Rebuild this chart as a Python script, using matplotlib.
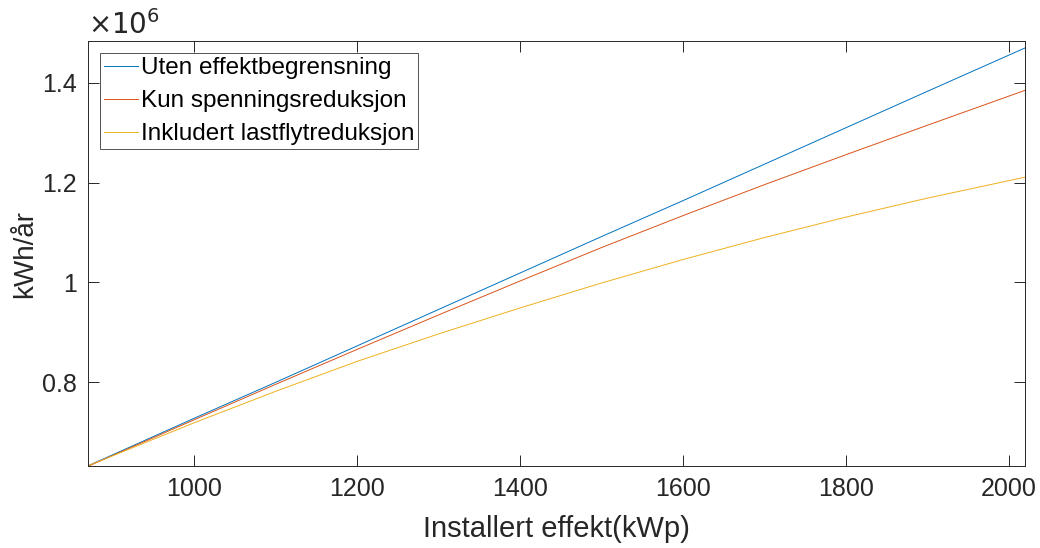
#!/usr/bin/env python3
"""Årlig produksjon mot installert effekt, med og uten effektbegrensning."""
import matplotlib
matplotlib.use("Agg")
import matplotlib.pyplot as plt
from matplotlib.ticker import FuncFormatter

# Installert effekt (kWp)
effekt = [870, 1000, 1100, 1200, 1300, 1400, 1500, 1600, 1700, 1800, 1900, 2020]

# Årlig produksjon (kWh/år)
uten_begrensning = [633000, 728000, 800000, 873000, 946000, 1019000,
                    1092000, 1164000, 1237000, 1310000, 1383000, 1470000]
kun_spenning = [632000, 725000, 796000, 866000, 935000, 1003000,
                1070000, 1134000, 1196000, 1256000, 1315000, 1385000]
lastflyt = [633000, 719000, 782000, 842000, 897000, 949000,
            999000, 1046000, 1090000, 1131000, 1169000, 1211000]

labels = ["Uten effektbegrensning", "Kun spenningsreduksjon",
          "Inkludert lastflytreduksjon"]
colors = ["#0072BD", "#D95319", "#EDB120"]

plt.rcParams["font.family"] = ["Liberation Sans", "DejaVu Sans"]
GREY = "#262626"


def main():
    fig = plt.figure(figsize=(10.4, 5.48), dpi=100)
    ax = fig.add_axes([0.0849, 0.1502, 0.901, 0.7744])

    for serie, label, color in zip([uten_begrensning, kun_spenning, lastflyt],
                                   labels, colors):
        ax.plot(effekt, serie, color=color, linewidth=0.7, label=label)

    ax.set_xlim(870, 2020)
    ax.set_ylim(633000, 1483000)
    ax.set_xticks([1000, 1200, 1400, 1600, 1800, 2000])
    ax.set_yticks([800000, 1000000, 1200000, 1400000])
    ax.yaxis.set_major_formatter(FuncFormatter(lambda v, _: f"{v / 1e6:g}"))

    ax.tick_params(direction="in", length=8, width=0.7, colors=GREY,
                   labelsize=18, top=True, right=True, pad=8)
    for spine in ax.spines.values():
        spine.set_color(GREY)
        spine.set_linewidth(0.7)

    ax.set_xlabel("Installert effekt(kWp)", fontsize=21, color=GREY, labelpad=10)
    ax.set_ylabel("kWh/år", fontsize=20, color=GREY, labelpad=3)
    ax.text(0.0, 1.003, r"$\times10^{6}$", transform=ax.transAxes,
            fontsize=20, color=GREY, ha="left", va="bottom",
            math_fontfamily="dejavusans")

    leg = ax.legend(loc="upper left", fontsize=17.5, frameon=True, fancybox=False,
                    handlelength=1.4, handletextpad=0.1, borderpad=0.15,
                    labelspacing=0.45, borderaxespad=0.5)
    leg.get_frame().set_edgecolor(GREY)
    leg.get_frame().set_linewidth(0.7)

    fig.savefig("out.png", dpi=100)
    plt.close(fig)


if __name__ == "__main__":
    main()
